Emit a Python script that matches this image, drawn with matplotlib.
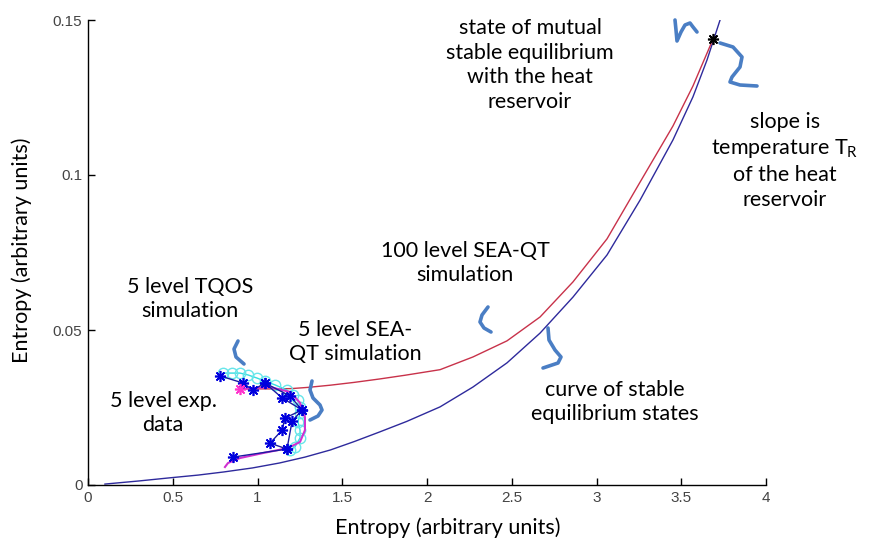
import matplotlib.pyplot as plt
from matplotlib.lines import Line2D

# stable equilibrium curve
eq_x = [0.10, 0.30, 0.48, 0.65, 0.80, 0.97, 1.13, 1.28, 1.43, 1.57, 1.72, 1.88, 2.077, 2.271, 2.472,
        2.667, 2.861, 3.062, 3.257, 3.451, 3.569, 3.652, 3.729]
eq_y = [0.0003, 0.0013, 0.0023, 0.0032, 0.0042, 0.0055, 0.0071, 0.0090, 0.0113, 0.0140, 0.0171, 0.0205,
        0.0252, 0.0316, 0.0394, 0.0490, 0.0606, 0.0742, 0.0919, 0.1113, 0.1252, 0.1371, 0.1500]

# 100 level SEA-QT simulation
sea100_x = [0.93, 1.00, 1.10, 1.20, 1.30, 1.43, 1.57, 1.72, 1.87, 2.077, 2.271, 2.472, 2.667, 2.861,
            3.062, 3.257, 3.451, 3.569, 3.670, 3.687]
sea100_y = [0.0310, 0.0310, 0.0310, 0.0311, 0.0315, 0.0322, 0.0331, 0.0342, 0.0354, 0.0372, 0.0413,
            0.0465, 0.0542, 0.0655, 0.0794, 0.0977, 0.1158, 0.1287, 0.1416, 0.1440]

# 5 level SEA-QT simulation
sea5_x = [0.897, 1.074, 1.192, 1.251, 1.280, 1.280, 1.251, 1.180, 1.032, 0.897, 0.826, 0.808]
sea5_y = [0.0310, 0.0316, 0.0300, 0.0265, 0.0219, 0.0177, 0.0139, 0.0119, 0.0103, 0.0087, 0.0071, 0.0058]

# 5 level TQOS simulation
tqos_x = [0.796, 0.850, 0.897, 0.944, 0.997, 1.044, 1.103, 1.174, 1.209, 1.239, 1.251, 1.251, 1.239, 1.251, 1.251, 1.221, 1.192]
tqos_y = [0.0361, 0.0361, 0.0361, 0.0355, 0.0345, 0.0335, 0.0323, 0.0306, 0.0290, 0.0274, 0.0252, 0.0232, 0.0203, 0.0177, 0.0152, 0.0123, 0.0113]

# 5 level experimental data
exp_x = [0.779, 0.914, 0.973, 1.044, 1.145, 1.263, 1.162, 1.145, 1.074, 1.174, 0.855]
exp_y = [0.0352, 0.0329, 0.0306, 0.0329, 0.0281, 0.0242, 0.0216, 0.0177, 0.0135, 0.0116, 0.0090]
exp2_x = [1.044, 1.192, 1.263, 1.204, 1.174]
exp2_y = [0.0329, 0.0287, 0.0242, 0.0206, 0.0116]

# mutual stable equilibrium with the reservoir
final_x = [3.687]
final_y = [0.1440]

W, H = 871, 544
fig = plt.figure(figsize=(W / 100, H / 100), dpi=100)
ax = fig.add_axes([88 / W, 1 - 485 / H, (766 - 88) / W, (485 - 20) / H])

asterisk = (8, 2, 0)
ax.plot(eq_x, eq_y, color='#2e2a9c', lw=1.0)
ax.plot(sea100_x, sea100_y, color='#c8324a', lw=1.0)
ax.plot(tqos_x, tqos_y, color='#33dde0', lw=1.0, marker='o', ms=7.5,
        mfc='none', mec='#66e6ea', mew=1.0)
ax.plot(sea5_x, sea5_y, color='#d030d0', lw=1.5)
ax.plot(exp_x, exp_y, color='#1a1aa0', lw=1.0, marker=asterisk, ms=8,
        mec='#0000dd', mew=1.2)
ax.plot(exp2_x, exp2_y, color='#1a1aa0', lw=1.0, marker=asterisk, ms=8,
        mec='#0000dd', mew=1.2)
ax.plot(sea5_x[:1], sea5_y[:1], ls='none', marker=asterisk, ms=8, mew=1.2, color='#ff33cc')
ax.plot(final_x, final_y, ls='none', marker=asterisk, ms=8, mew=1.2, color='black')

ax.set_xlim(0, 4)
ax.set_ylim(0, 0.15)
ax.set_xticks([0, 0.5, 1, 1.5, 2, 2.5, 3, 3.5, 4])
ax.set_xticklabels(['0', '0.5', '1', '1.5', '2', '2.5', '3', '3.5', '4'])
ax.set_yticks([0, 0.05, 0.1, 0.15])
ax.set_yticklabels(['0', '0.05', '0.1', '0.15'])
for s in ['top', 'right']:
    ax.spines[s].set_visible(False)
for s in ['left', 'bottom']:
    ax.spines[s].set_linewidth(1.0)
ax.tick_params(direction='in', length=5, width=1.0, labelsize=11,
               labelcolor='#444444', pad=4)
for lab in ax.get_xticklabels() + ax.get_yticklabels():
    lab.set_family(['Liberation Sans Narrow', 'Liberation Sans', 'DejaVu Sans'])

label_font = ['Lato', 'DejaVu Sans']
fig.text(448 / W, 1 - 528 / H, 'Entropy (arbitrary units)', ha='center', va='center',
         fontsize=15.5, family=label_font)
fig.text(22 / W, 1 - 250 / H, 'Entropy (arbitrary units)', ha='center', va='center',
         rotation=90, fontsize=15.5, family=label_font)

notes = [
    (530, 65, 'state of mutual\nstable equilibrium\nwith the heat\nreservoir'),
    (785, 161, 'slope is\ntemperature T$_{\\mathregular{R}}$\nof the heat\nreservoir'),
    (465, 263, '100 level SEA-QT\nsimulation'),
    (190, 299, '5 level TQOS\nsimulation'),
    (355, 342, '5 level SEA-\nQT simulation'),
    (163, 413, '5 level exp.\ndata'),
    (615, 402, 'curve of stable\nequilibrium states'),
]
for x, y, s in notes:
    fig.text(x / W, 1 - y / H, s, ha='center', va='center', fontsize=15.5,
             family=label_font, linespacing=1.3)

# hand-drawn brace strokes pointing at features
strokes = [
    [(675, 20), (676, 30), (677, 41), (681, 32), (685, 25), (690, 23), (693, 27), (697, 32)],
    [(720, 43), (733, 47), (742, 57), (740, 67), (732, 77), (730, 82), (740, 85), (757, 86)],
    [(238, 341), (234, 349), (236, 357), (244, 364)],
    [(312, 381), (310, 390), (313, 398), (320, 405), (322, 410), (318, 416), (310, 420)],
    [(488, 307), (482, 315), (480, 322), (484, 328), (491, 332)],
    [(548, 328), (549, 340), (555, 350), (561, 357), (558, 363), (543, 368)],
]
for pts in strokes:
    xs = [p[0] / W for p in pts]
    ys = [1 - p[1] / H for p in pts]
    fig.add_artist(Line2D(xs, ys, color='#4a7ec4', lw=2.6,
                          solid_capstyle='round', solid_joinstyle='round'))

fig.savefig('out.png', dpi=100)
